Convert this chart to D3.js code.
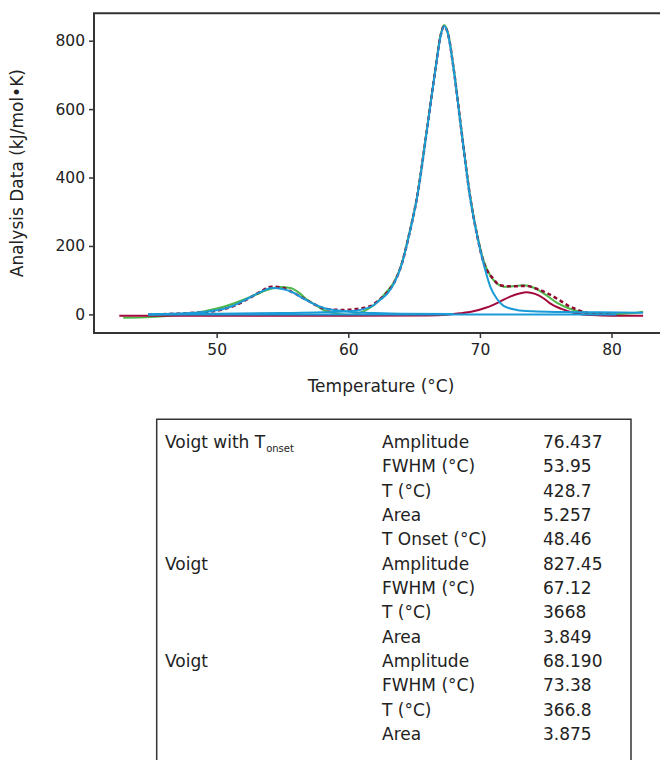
<!DOCTYPE html>
<html lang="en">
  <head>
    <meta charset="utf-8">
    <title>Peak fit</title>
    <script type="text/javascript" src="https://cdn.jsdelivr.net/npm/d3@7"></script>
    <style type="text/css">
      body { margin: 0; background: #fff; }
      svg { display: block; font-family: "DejaVu Sans", sans-serif; }
    </style>
  </head>
  <body>
    <script type="text/javascript">

      // Curves: [temperature, value]
      var measured = [[42.9,-10],[45,-8],[47,-2],[48.5,5],[50,17],[51,28],[52,42],[53,58],[54,73],[54.8,80],
        [55.6,77],[56.3,62],[56.8,45],[57.5,28],[58.1,13],[59.1,2],[60.1,-1],[60.9,5],[61.6,18],[62.3,40],
        [62.9,66],[63.5,96],[64.05,148],[64.6,232],[65.24,348],[65.95,535],[66.66,730],[67.0,815],[67.28,846],
        [67.6,818],[67.97,730],[68.61,535],[69.24,350],[69.8,232],[70.3,155],[70.8,112],[71.3,90],[71.8,81],
        [72.5,82],[73.3,85],[74.1,78],[74.9,60],[75.8,35],[76.6,20],[77.1,13],[78,5],[79,2],[80,1],[81,2],
        [81.8,4],[82.4,8]];

      var fitSum = [[44.8,0],[47,2],[48.5,5],[49.5,8],[50.5,15],[51.5,28],[52.5,48],[53.3,66],[54.16,81],
        [55,78],[55.8,64],[56.6,47],[57.3,32],[58.1,18],[58.8,14],[59.6,13],[60.6,16],[61.6,23],[62.4,44],
        [63,66],[63.5,94],[64.05,146],[64.6,229],[65.24,346],[65.95,532],[66.66,727],[67.0,812],[67.28,842],
        [67.6,816],[67.97,727],[68.61,532],[69.24,347],[69.8,228],[70.3,150],[70.6,125],[71.0,105],[71.5,85],
        [72.3,82],[73.5,83],[74.3,75],[75.1,62],[75.9,45],[76.6,28],[77.3,15],[78.1,5],[79,1],[80,0]];

      var peak1 = [[44.8,0],[46,1],[47.5,3],[49,7],[50.3,14],[51.3,26],[52.3,45],[53.3,65],[54.2,77],[55,74],
        [55.8,64],[56.6,46],[57.4,30],[58.2,18],[59,12],[59.8,9],[60.6,6],[62,4],[64,2],[68,1]];

      var peak2 = [[44.8,0],[50,2],[55,4],[58,6],[60,9],[61,14],[61.9,26],[62.4,42],[63,62],[63.5,92],
        [64.05,145],[64.6,228],[65.24,345],[65.95,531],[66.66,726],[67.0,810],[67.28,843],[67.6,815],
        [67.97,726],[68.61,531],[69.24,345],[69.8,228],[70.3,145],[70.8,80],[71.3,45],[71.8,25],[72.8,13],
        [74,9],[76,7],[79,6],[82.4,5]];

      var peak3 = [[42.6,-4],[50,-4],[60,-4],[66,-3],[67.5,-1],[68.5,3],[69.5,9],[70.5,20],[71.3,33],
        [72.3,52],[73,61],[73.55,65],[74.2,60],[74.8,48],[75.3,33],[76.2,16],[77.1,5],[77.8,0],[78.5,-2],
        [80,-4],[82.4,-4]];

      var baseline = [[44.8,0],[80.4,0]];

      var xTicks = [50, 60, 70, 80];
      var yTicks = [0, 200, 400, 600, 800];

      // Fit results table
      var modelNames = ["Voigt with T", "Voigt", "Voigt"];
      var modelSubs = ["onset", "", ""];
      var modelRows = [5, 4, 4];
      var paramLabels = ["Amplitude", "FWHM (°C)", "T (°C)", "Area", "T Onset (°C)",
        "Amplitude", "FWHM (°C)", "T (°C)", "Area",
        "Amplitude", "FWHM (°C)", "T (°C)", "Area"];
      var paramValues = ["76.437", "53.95", "428.7", "5.257", "48.46",
        "827.45", "67.12", "3668", "3.849",
        "68.190", "73.38", "366.8", "3.875"];

      var w = 660;
      var h = 760;

      // plot box (right edge sits just past the window)
      var plotL = 94, plotR = 668, plotT = 13.3, plotB = 333;

      var svg = d3.select("body")
        .append("svg")
        .attr("width", w)
        .attr("height", h);

      svg.append("rect")
        .attr("width", w)
        .attr("height", h)
        .attr("fill", "#fff");

      var xScale = d3.scaleLinear()
        .domain([40.68, 84.29])
        .range([plotL, plotR]);

      var yScale = d3.scaleLinear()
        .domain([-54.4, 880])
        .range([plotB, plotT]);

      // Axes
      var xAxis = d3.axisBottom(xScale)
        .tickValues(xTicks)
        .tickSize(5)
        .tickPadding(6)
        .tickSizeOuter(0);

      var yAxis = d3.axisLeft(yScale)
        .tickValues(yTicks)
        .tickSize(5)
        .tickPadding(4)
        .tickSizeOuter(0);

      var gx = svg.append("g")
        .attr("transform", "translate(0," + plotB + ")")
        .call(xAxis);

      var gy = svg.append("g")
        .attr("transform", "translate(" + plotL + ",0)")
        .call(yAxis);

      [gx, gy].forEach(function(g) {
        g.select(".domain").remove();
        g.selectAll(".tick line").attr("stroke", "#333").attr("stroke-width", 1.5);
        g.selectAll(".tick text")
          .attr("font-family", "DejaVu Sans, sans-serif")
          .attr("font-size", "15.5px")
          .attr("fill", "#222");
      });

      // Frame
      svg.append("path")
        .attr("d", "M" + plotR + "," + plotT + "H" + plotL + "V" + plotB + "H" + plotR)
        .attr("fill", "none")
        .attr("stroke", "#333")
        .attr("stroke-width", 2);

      // Axis titles
      svg.append("text")
        .attr("x", (plotL + plotR) / 2)
        .attr("y", 392)
        .attr("text-anchor", "middle")
        .attr("font-size", "17px")
        .attr("fill", "#222")
        .text("Temperature (°C)");

      svg.append("text")
        .attr("transform", "translate(23," + (plotT + plotB) / 2 + ") rotate(-90)")
        .attr("text-anchor", "middle")
        .attr("font-size", "17px")
        .attr("fill", "#222")
        .text("Analysis Data (kJ/mol\u2022K)");

      // Lines
      var line = d3.line()
        .x(function(d) { return xScale(d[0]); })
        .y(function(d) { return yScale(d[1]); })
        .curve(d3.curveMonotoneX);

      var green = "#4db848";
      var blue = "#1a9bd7";
      var red = "#a3093a";

      var series = [
        { data: measured, color: green, width: 2, dash: null },
        { data: fitSum, color: "#8e0a33", width: 2.5, dash: "4,3" },
        { data: peak3, color: red, width: 2, dash: null },
        { data: baseline, color: blue, width: 2, dash: null },
        { data: peak1, color: blue, width: 2, dash: null },
        { data: peak2, color: blue, width: 2, dash: null }
      ];

      series.forEach(function(s) {
        svg.append("path")
          .datum(s.data)
          .attr("d", line)
          .attr("fill", "none")
          .attr("stroke", s.color)
          .attr("stroke-width", s.width)
          .attr("stroke-dasharray", s.dash)
          .attr("stroke-linejoin", "round");
      });

      // Table
      var tx = 156.7, ty = 419.3, tw = 474.3;
      var rowH = 24.33, firstBase = 448;
      var col1 = 165, col2 = 382, col3 = 543;

      svg.append("path")
        .attr("d", "M" + tx + "," + (h + 5) + "V" + ty + "H" + (tx + tw) + "V" + (h + 5))
        .attr("fill", "none")
        .attr("stroke", "#333")
        .attr("stroke-width", 1.5);

      var rowStart = 0;
      modelNames.forEach(function(name, i) {
        var t = svg.append("text")
          .attr("x", col1)
          .attr("y", firstBase + rowStart * rowH)
          .attr("font-size", "17px")
          .attr("fill", "#222")
          .text(name);
        if (modelSubs[i]) {
          t.append("tspan")
            .attr("font-size", "10px")
            .attr("dy", 4)
            .attr("dx", 1)
            .text(modelSubs[i]);
        }
        rowStart += modelRows[i];
      });

      svg.selectAll("text.param")
        .data(paramLabels)
        .enter()
        .append("text")
        .attr("class", "param")
        .attr("x", col2)
        .attr("y", function(d, i) { return firstBase + i * rowH; })
        .attr("font-size", "17px")
        .attr("fill", "#222")
        .text(function(d) { return d; });

      svg.selectAll("text.value")
        .data(paramValues)
        .enter()
        .append("text")
        .attr("class", "value")
        .attr("x", col3)
        .attr("y", function(d, i) { return firstBase + i * rowH; })
        .attr("font-size", "17px")
        .attr("fill", "#222")
        .text(function(d) { return d; });

    </script>
  </body>
</html>
